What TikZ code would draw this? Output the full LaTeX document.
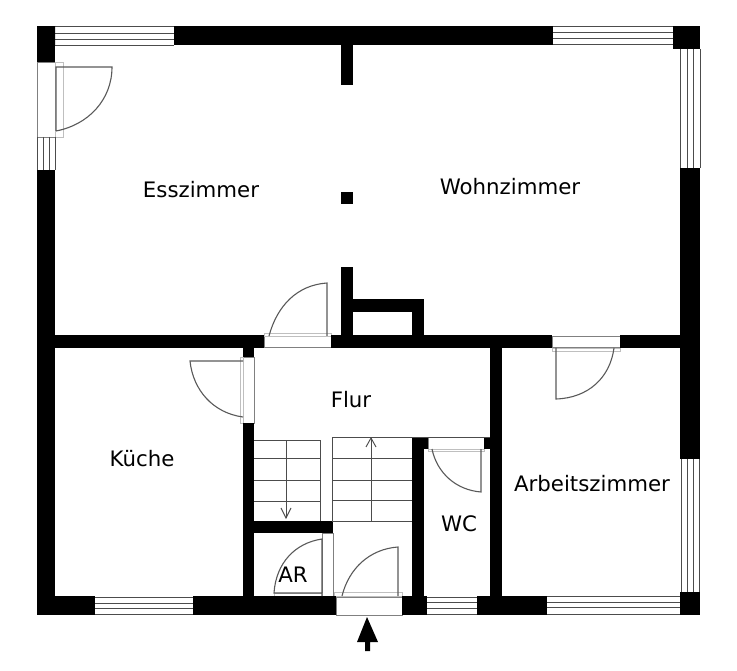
\documentclass[tikz,border=0pt]{standalone}
\usepackage{fontspec}
\setmainfont{DejaVu Sans}

\begin{document}
\begin{tikzpicture}[x=1pt,y=-1pt]
	\tikzstyle{every node} = [font=\fontsize{21.3}{24}\selectfont,text=black];
	\tikzstyle{thinline} = [draw=black!70,line width=0.95pt];
	\tikzstyle{openline} = [draw=black!50,line width=0.8pt];
	\tikzstyle{doorline} = [draw=black!65,line width=1.1pt];
	\tikzstyle{frameline} = [draw=black!25,line width=0.8pt];
	\useasboundingbox (0,0) rectangle (737,671);
	% door openings
	\foreach \xa/\ya/\xb/\yb in {37/62/55/137, 264/336/331/347, 552/336/620/347, 243/357/254/423,
			322/533/333/596, 336/597/402/615, 428/437/484/449}
		\draw[openline] (\xa,\ya) rectangle (\xb,\yb);
	\foreach \xa/\ya/\xb/\yb in {55/62/63/137, 264/333/331/336, 552/348/620/351, 240/357/243/423,
			274/593/322/596, 334/592/402/596, 428/449/484/451}
		\draw[frameline] (\xa,\ya) rectangle (\xb,\yb);
	% windows, horizontal
	\foreach \xa/\xb/\ya/\yb/\yc/\yd in {55/174/26/33/39/45, 553/673/26/32/38/44, 95/193/597/603/608/614,
			427/477/597/602/608/614, 547/680/596/602/607/614} {
		\draw[thinline] (\xa,\ya) -- (\xb,\ya);
		\draw[thinline] (\xa,\yd) -- (\xb,\yd);
		\draw[thinline] (\xa,\yb) -- (\xb,\yb);
		\draw[thinline] (\xa,\yc) -- (\xb,\yc);
	}
	% windows, vertical
	\foreach \ya/\yb/\xa/\xb/\xc/\xd in {137/170/37/43/49/55, 49/168/680/687/693/700, 459/592/681/687/693/699} {
		\draw[thinline] (\xa,\ya) -- (\xa,\yb);
		\draw[thinline] (\xd,\ya) -- (\xd,\yb);
		\draw[thinline] (\xb,\ya) -- (\xb,\yb);
		\draw[thinline] (\xc,\ya) -- (\xc,\yb);
	}
	% walls
	\foreach \xa/\ya/\xb/\yb in {37/26/55/62, 37/170/55/615, 55/26/55/45, 174/26/553/45, 673/26/700/49,
			680/168/700/459, 680/592/700/615, 37/596/95/615, 193/596/336/615, 402/596/427/615, 477/596/547/615,
			55/335/264/348, 331/335/552/348, 620/335/680/348,
			341/45/353/85, 341/192/353/204, 341/267/353/336, 353/299/424/312, 412/299/424/336,
			243/348/254/357, 243/423/254/596, 254/521/333/533,
			412/437/424/596, 424/437/428/449, 484/437/490/449, 490/348/502/596}
		\fill[black] (\xa,\ya) rectangle (\xb,\yb);
	\fill[black] (37,26) rectangle (55,45);
	% doors
	\draw[doorline] (56,131) -- (56,67) -- (112,67) .. controls (112,100) and (88,125) .. (56,131);
	\draw[doorline] (269,336) .. controls (277,306) and (297,285) .. (327,283) -- (327,336);
	\draw[doorline] (556,348) -- (556,399) .. controls (588,398) and (610,378) .. (614,348);
	\draw[doorline] (243,361) -- (190,361) .. controls (193,390) and (213,413) .. (243,417);
	\draw[doorline] (322,596) -- (322,539) .. controls (295,543) and (276,563) .. (274,593) -- (322,593);
	\draw[doorline] (398,596) -- (398,547) .. controls (370,549) and (349,568) .. (342,596);
	\draw[doorline] (481,449) -- (481,492) .. controls (456,490) and (437,473) .. (432,449);
	% stairs
	\draw[thinline] (254,440) -- (320,440) -- (320,521);
	\foreach \y in {458,480,501}
		\draw[thinline] (254,\y) -- (320,\y);
	\draw[thinline] (332,521) -- (332,437) -- (490,437);
	\foreach \y in {458,480,500,521}
		\draw[thinline] (332,\y) -- (412,\y);
	\coordinate (downa) at (286,440);
	\coordinate (downb) at (286,518);
	\coordinate (upa) at (371,521);
	\coordinate (upb) at (371,438);
	\draw[thinline] (downa) -- (downb);
	\draw[thinline] (281,508) -- (downb) -- (291,508);
	\draw[thinline] (upa) -- (upb);
	\draw[thinline] (366,447) -- (upb) -- (376,447);
	% entrance
	\fill[black] (367,617) -- (378,642) -- (370,642) -- (370,651) -- (365,651) -- (365,642) -- (357,642) -- cycle;
	% labels
	\node (esszimmer) at (201,190) {Esszimmer};
	\node (wohnzimmer) at (510,187) {Wohnzimmer};
	\node (flur) at (351,400) {Flur};
	\node (kueche) at (142,459) {Küche};
	\node (wc) at (459,524) {WC};
	\node (ar) at (293,575) {AR};
	\node (arbeitszimmer) at (592,484) {Arbeitszimmer};
\end{tikzpicture}
\end{document}
